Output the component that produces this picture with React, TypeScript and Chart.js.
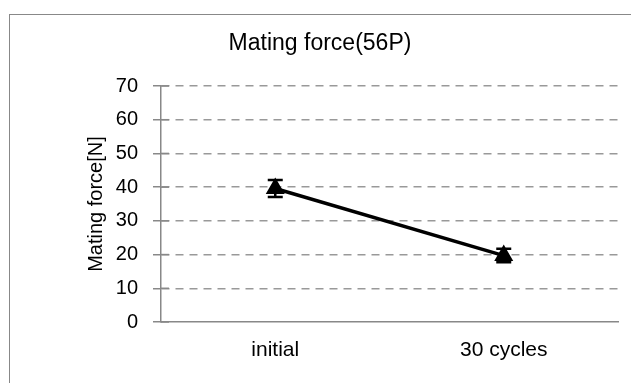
import React, { useEffect, useRef } from "react";
import { Chart, registerables } from "chart.js";

Chart.register(...registerables);

const categories = ["initial", "30 cycles"];
const forceValues = [39.6, 19.7];
const forceErrors = [2.5, 2.0];
const yTicks = [0, 10, 20, 30, 40, 50, 60, 70];
const chartTitle = "Mating force(56P)";
const yTitle = "Mating force[N]";

const FONT = "'Liberation Sans', Arial, sans-serif";

const errorBarPlugin = {
  id: "errorBars",
  afterDatasetsDraw(chart: any) {
    const ctx = chart.ctx;
    const meta = chart.getDatasetMeta(0);
    const yScale = chart.scales.y;
    ctx.save();
    ctx.strokeStyle = "#000";
    ctx.lineWidth = 2.5;
    meta.data.forEach((pt: any, i: number) => {
      const v = forceValues[i];
      const e = forceErrors[i];
      const yTop = yScale.getPixelForValue(v + e);
      const yBot = yScale.getPixelForValue(v - e);
      const x = pt.x;
      const cap = 7.5;
      ctx.beginPath();
      ctx.moveTo(x, yTop);
      ctx.lineTo(x, yBot);
      ctx.moveTo(x - cap, yTop);
      ctx.lineTo(x + cap, yTop);
      ctx.moveTo(x - cap, yBot);
      ctx.lineTo(x + cap, yBot);
      ctx.stroke();
    });
    ctx.restore();
  },
};

const innerTickPlugin = {
  id: "innerTicks",
  afterDraw(chart: any) {
    const ctx = chart.ctx;
    const yScale = chart.scales.y;
    const left = chart.chartArea.left;
    ctx.save();
    ctx.strokeStyle = "#888";
    ctx.lineWidth = 1.5;
    yScale.ticks.forEach((t: any) => {
      const y = yScale.getPixelForValue(t.value);
      ctx.beginPath();
      ctx.moveTo(left, y);
      ctx.lineTo(left + 8, y);
      ctx.stroke();
    });
    ctx.restore();
  },
};

const titlePlugin = {
  id: "customTitle",
  afterDraw(chart: any) {
    const ctx = chart.ctx;
    ctx.save();
    ctx.fillStyle = "#000";
    ctx.font = `23px ${FONT}`;
    ctx.textAlign = "center";
    ctx.textBaseline = "middle";
    ctx.fillText(chartTitle, 320, 44);
    ctx.restore();
  },
};

export default function App() {
  const ref = useRef<HTMLCanvasElement | null>(null);

  useEffect(() => {
    if (!ref.current) return;
    const chart = new Chart(ref.current, {
      type: "line",
      data: {
        labels: categories,
        datasets: [
          {
            data: forceValues,
            borderColor: "#000",
            backgroundColor: "#000",
            borderWidth: 3.5,
            pointStyle: "triangle",
            pointRadius: 7.5,
            pointBackgroundColor: "#000",
            pointBorderColor: "#000",
            tension: 0,
          },
        ],
      },
      options: {
        animation: false,
        responsive: false,
        devicePixelRatio: 1,
        layout: { padding: { top: 86, left: 0, right: 13, bottom: 0 } },
        plugins: {
          legend: { display: false },
          tooltip: { enabled: false },
          title: { display: false },
        },
        scales: {
          x: {
            offset: true,
            grid: { display: false },
            border: { display: true, color: "#888", width: 1.5 },
            ticks: {
              color: "#000",
              font: { family: FONT, size: 21 },
              padding: 8,
            },
            afterFit(scale: any) {
              scale.height = 61;
            },
          },
          y: {
            min: 0,
            max: 70,
            afterBuildTicks(scale: any) {
              scale.ticks = yTicks.map((v) => ({ value: v }));
            },
            ticks: {
              color: "#000",
              font: { family: FONT, size: 20 },
              padding: 15,
            },
            grid: {
              color: (c: any) => (c.tick && c.tick.value === 0 ? "rgba(0,0,0,0)" : "#999"),
              lineWidth: 1.5,
              tickColor: "#888",
              tickLength: 8,
              tickWidth: 1.5,
            },
            border: { display: true, color: "#888", width: 1.5, dash: [8, 6] },
            title: {
              display: true,
              text: yTitle,
              color: "#000",
              font: { family: FONT, size: 20 },
              padding: { top: 84, bottom: 0 },
            },
            afterFit(scale: any) {
              scale.width = 161;
            },
          },
        },
      },
      plugins: [errorBarPlugin, innerTickPlugin, titlePlugin],
    });
    return () => chart.destroy();
  }, []);

  return (
    <div
      style={{
        position: "fixed",
        left: 0,
        top: 0,
        width: 631,
        height: 383,
        background: "#fff",
        overflow: "hidden",
      }}
    >
      <div
        style={{
          position: "absolute",
          left: 9,
          top: 14,
          width: 700,
          height: 500,
          border: "1.5px solid #888",
        }}
      />
      <canvas
        ref={ref}
        width={631}
        height={383}
        style={{ position: "absolute", left: 0, top: 0, width: 631, height: 383 }}
      />
    </div>
  );
}
